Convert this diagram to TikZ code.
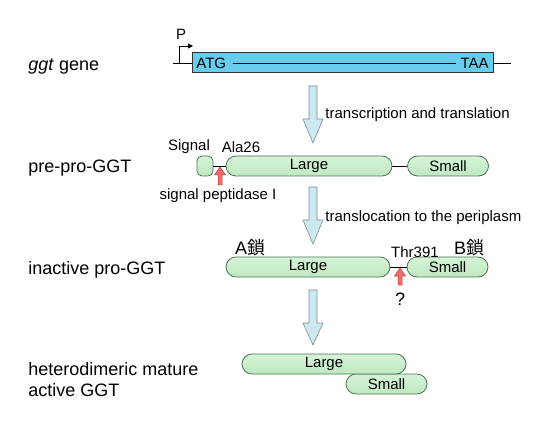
\documentclass[tikz,border=0pt]{standalone}
\usepackage{fontspec}
\setmainfont{Liberation Sans}
\newfontfamily\cjk{Noto Sans CJK JP}
\usetikzlibrary{shapes.misc,arrows.meta}
\definecolor{genefill}{RGB}{104,205,236}
\definecolor{capfill}{RGB}{190,232,192}
\definecolor{captop}{RGB}{214,243,216}
\definecolor{capline}{RGB}{72,118,82}
\definecolor{blkfill}{RGB}{206,232,240}
\definecolor{blkline}{RGB}{120,140,150}
\definecolor{cutfill}{RGB}{238,110,110}
\definecolor{cutline}{RGB}{185,60,60}
\begin{document}
\begin{tikzpicture}[x=1pt,y=-1pt,line width=0.8pt,
  every node/.style={font=\fontsize{15}{17}\selectfont,inner sep=0pt},
  stage/.style={anchor=west,align=left,font=\fontsize{18}{21}\selectfont},
  big/.style={font=\fontsize{18}{21}\selectfont},
  dom/.style={rounded rectangle,draw=capline,top color=captop,bottom color=capfill,minimum height=20pt},
  cut/.style={draw=cutline,fill=cutfill,line width=0.5pt}]
  \useasboundingbox (0,0) rectangle (553,435);
  % stage names
  \node[stage] (s1) at (28,67) {\textit{ggt} gene};
  \node[stage] (s2) at (28,168) {pre-pro-GGT};
  \node[stage] (s3) at (28,270) {inactive pro-GGT};
  \node[stage] (s4) at (28,380) {heterodimeric mature\\active GGT};
  % gene
  \node[draw=black!80,fill=genefill,minimum width=301pt,minimum height=20pt] (gene) at (342.5,62) {};
  \draw (173,63) -- (gene.west |- 0,63);
  \draw (gene.east |- 0,63) -- (511,63);
  \node[anchor=west] (atg) at (196,63) {ATG};
  \node[anchor=east] (taa) at (489,63) {TAA};
  \draw ([xshift=6pt]atg.east) -- ([xshift=-4pt]taa.west);
  \draw[-{Triangle[length=5pt,width=5pt]}] (179,63) |- (193,46);
  \node (p) at (181,34) {P};
  % processing arrows
  \foreach \ya/\yb/\yc in {86/119/143, 187/220/244, 290/323/345}
    \draw[draw=blkline,fill=blkfill,line width=0.6pt]
      (309,\ya) -- (317,\ya) -- (317,\yb) -- (323,\yb) -- (313,\yc)
      -- (303,\yb) -- (309,\yb) -- cycle;
  \node[anchor=west] (t1) at (325,115) {transcription and translation};
  \node[anchor=west] (t2) at (325,218) {translocation to the periplasm};
  % pre-pro-GGT
  \node[draw=capline,top color=captop,bottom color=capfill,rounded corners=5pt,minimum width=16pt,minimum height=20pt] (sig) at (205,166) {};
  \node[dom,minimum width=166pt] (lg1) at (309,166) {Large};
  \node[dom,minimum width=81pt] (sm1) at (448,166) {Small};
  \draw (sig.east) -- (lg1.west);
  \draw (lg1.east) -- (sm1.west);
  \node (lsig) at (189,147) {Signal};
  \node (lala) at (241,147) {Ala26};
  \draw[cut] (220,167) -- (225.5,175) -- (222,175) -- (222,185) -- (218,185) -- (218,175) -- (214.5,175) -- cycle;
  \node (lpep) at (218,196) {signal peptidase I};
  % inactive pro-GGT
  \node[dom,minimum width=164pt] (lg2) at (308,267) {Large};
  \node[dom,minimum width=81pt] (sm2) at (447.5,267) {Small};
  \draw (lg2.east) -- (sm2.west);
  \node[big] (la) at (250,248) {A{\cjk 鎖}};
  \node (lthr) at (415,252) {Thr391};
  \node[big] (lb) at (469,248) {B{\cjk 鎖}};
  \draw[cut] (400,268) -- (405.5,276) -- (402,276) -- (402,285) -- (398,285) -- (398,276) -- (394.5,276) -- cycle;
  \node[big] (lq) at (400,299) {?};
  % mature GGT
  \node[dom,minimum width=81pt] (sm3) at (386.5,384) {Small};
  \node[dom,minimum width=164pt] (lg3) at (324,364) {Large};
\end{tikzpicture}
\end{document}
